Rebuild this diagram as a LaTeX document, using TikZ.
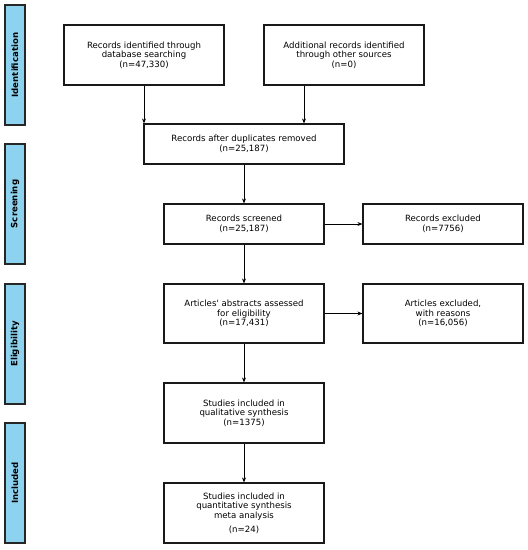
\documentclass[tikz,border=0pt]{standalone}
\usepackage{fontspec}
\setmainfont{DejaVu Sans}[Ligatures=TeXOff]
\usetikzlibrary{arrows.meta}
\definecolor{barblue}{HTML}{8DD2EE}
\tikzset{
  boxnode/.style={draw=black!90, line width=1.15pt, fill=white, inner sep=0pt, align=center,
    font=\fontsize{8.6}{9.6}\selectfont},
  barnode/.style={draw=black!85, line width=1.15pt, fill=barblue, inner sep=0pt,
    minimum width=20pt, minimum height=120pt},
  barlabel/.style={rotate=90, font=\fontsize{8.6}{9}\selectfont\bfseries},
  flow/.style={draw=black, line width=1pt, -{Stealth[length=5pt,width=4pt]}}
}
\begin{document}
\begin{tikzpicture}[x=1pt,y=-1pt]
\useasboundingbox (0,0) rectangle (528,550);
% side bars
\node[barnode] (bid) at (15,65) {};
\node[barlabel] (lid) at (bid.center) {Identification};
\node[barnode] (bsc) at (15,204) {};
\node[barlabel] (lsc) at (bsc.center) {Screening};
\node[barnode] (bel) at (15,344) {};
\node[barlabel] (lel) at (bel.center) {Eligibility};
\node[barnode] (bin) at (15,483) {};
\node[barlabel] (lin) at (bin.center) {Included};
% boxes
\node[boxnode, minimum width=160pt, minimum height=60pt] (b1) at (144,55)
  {Records identified through\\database searching\\(n=47,330)};
\node[boxnode, minimum width=160pt, minimum height=60pt] (b2) at (344,55)
  {Additional records identified\\through other sources\\(n=0)};
\node[boxnode, minimum width=200pt, minimum height=40pt] (b3) at (244,144)
  {Records after duplicates removed\\(n=25,187)};
\node[boxnode, minimum width=160pt, minimum height=40pt] (b4) at (244,224)
  {Records screened\\(n=25,187)};
\node[boxnode, minimum width=160pt, minimum height=40pt] (b5) at (443,224)
  {Records excluded\\(n=7756)};
\node[boxnode, minimum width=160pt, minimum height=59pt] (b6) at (244,313.5)
  {Articles' abstracts assessed\\for eligibility\\(n=17,431)};
\node[boxnode, minimum width=160pt, minimum height=59pt] (b7) at (443,313.5)
  {Articles excluded,\\with reasons\\(n=16,056)};
\node[boxnode, minimum width=160pt, minimum height=60pt] (b8) at (244,413)
  {Studies included in\\qualitative synthesis\\(n=1375)};
\node[boxnode, minimum width=160pt, minimum height=60pt] (b9) at (244,513)
  {Studies included in\\quantitative synthesis\\meta analysis\\[4pt](n=24)};
% connectors
\draw[flow] (b1.south) -- (b1.south |- b3.north);
\draw[flow] (b2.south -| 304,0) -- (304,0 |- b3.north);
\draw[flow] (b3) -- (b4);
\draw[flow] (b4) -- (b5);
\draw[flow] (b4) -- (b6);
\draw[flow] (b6) -- (b7);
\draw[flow] (b6) -- (b8);
\draw[flow] (b8) -- (b9);
\end{tikzpicture}
\end{document}
